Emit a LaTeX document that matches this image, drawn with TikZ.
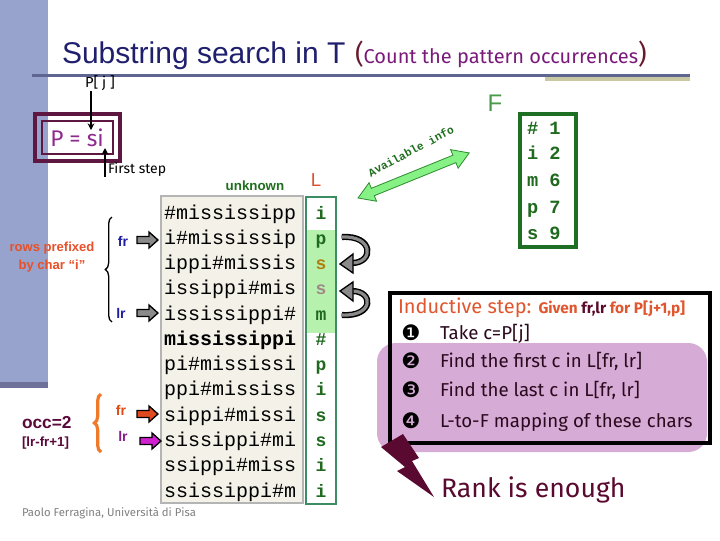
\documentclass[tikz,border=0pt]{standalone}
\usepackage{fontspec}
\setmainfont{Fira Sans}
\newfontfamily\monof{Liberation Mono}
\newfontfamily\titlef{Liberation Sans}
\newfontfamily\dejavu{DejaVu Sans}
\usetikzlibrary{decorations.pathreplacing,arrows.meta}
\definecolor{barblue}{HTML}{97A3CC}
\definecolor{bardark}{HTML}{6E7199}
\definecolor{navy}{HTML}{1F1F6E}
\definecolor{subpurple}{HTML}{7A1A7A}
\definecolor{parenred}{HTML}{6A1A30}
\definecolor{titleline}{HTML}{5F6591}
\definecolor{khaki}{HTML}{C8C8A2}
\definecolor{boxmaroon}{HTML}{5E1740}
\definecolor{psipurple}{HTML}{8E2A8E}
\definecolor{dgreen}{HTML}{1E6E1E}
\definecolor{lred}{HTML}{E05030}
\definecolor{matfill}{HTML}{F3F1E8}
\definecolor{matborder}{HTML}{B4B4B4}
\definecolor{lborder}{HTML}{3C8C64}
\definecolor{lhl}{HTML}{B6F2AE}
\definecolor{ltext}{HTML}{1F6A1F}
\definecolor{sthree}{HTML}{B07F10}
\definecolor{sfour}{HTML}{A08888}
\definecolor{fgreen}{HTML}{4A9A4A}
\definecolor{fborder}{HTML}{1E6E24}
\definecolor{agreen}{HTML}{86F286}
\definecolor{agreenline}{HTML}{2E8B2E}
\definecolor{rowsred}{HTML}{E8502A}
\definecolor{frblue}{HTML}{1E1EA0}
\definecolor{frred}{HTML}{E04A14}
\definecolor{lrpurple}{HTML}{8C1C8C}
\definecolor{arrowred}{HTML}{E04A20}
\definecolor{arrowmag}{HTML}{D020D0}
\definecolor{braceorange}{HTML}{F07A2A}
\definecolor{occ}{HTML}{5A0A3A}
\definecolor{purplebox}{HTML}{D6ABD6}
\definecolor{itemtext}{HTML}{2A0A1E}
\definecolor{indred}{HTML}{E0562E}
\definecolor{frlr}{HTML}{5A0A2A}
\definecolor{rank}{HTML}{5A0A30}
\definecolor{grayarrow}{HTML}{8A8A8A}
\tikzset{
  txt/.style={inner sep=0pt, outer sep=0pt},
  matrow/.style={txt, anchor=base west, font=\monof\fontsize{15}{15}\selectfont},
  lchar/.style={txt, anchor=base, font=\monof\bfseries\fontsize{13.5}{13.5}\selectfont, text=ltext},
  fchar/.style={txt, anchor=base west, font=\monof\bfseries\fontsize{14}{14}\selectfont, text=ltext},
  item/.style={txt, anchor=base west, font=\fontsize{14}{14}\selectfont, text=itemtext},
  bullet/.style={txt, anchor=base, font=\dejavu\fontsize{16}{16}\selectfont, text=black},
  blk/.pic={\draw[pic actions] (0,-3.5) -- (12,-3.5) -- (12,-8) -- (21,0) -- (12,8) -- (12,3.5) -- (0,3.5) -- cycle;}
}
\begin{document}
\begin{tikzpicture}[x=0.75pt,y=-0.75pt]
\useasboundingbox (0,0) rectangle (720,540);
\fill[white] (0,0) rectangle (720,540);
% left bar
\fill[barblue] (0,0) rectangle (48,382);
\fill[bardark] (0,382) rectangle (48,388);
% title
\node[txt, anchor=base west, text=navy, font=\titlef\fontsize{22.5}{22.5}\selectfont] (title) at (62,63) {Substring search in T};
\node[txt, anchor=base west, font=\fontsize{15}{15}\selectfont] (subtitle) at (355,63)
  {\textcolor{parenred}{\fontsize{20}{20}\selectfont(}\textcolor{subpurple}{Count the pattern occurrences}\textcolor{parenred}{\fontsize{20}{20}\selectfont)}};
\fill[titleline] (32,73.5) rectangle (690,77);
\fill[khaki] (545,77) rectangle (690,80.5);
% P = si box
\draw[boxmaroon, line width=2.6pt] (35,114) rectangle (120,161);
\draw[boxmaroon, line width=2pt] (42,121) rectangle (113,154);
\node[txt, anchor=base, text=psipurple, font=\fontsize{17}{17}\selectfont] (psi) at (77,146) {P = si};
\node[txt, font=\fontsize{11}{11}\selectfont] (pj) at (100,83) {P[ j ]};
\draw[black, line width=1.6pt, -{Stealth[length=5pt,width=5pt]}] (91,91) coordinate (pja) -- (91,130) coordinate (pjb);
\node[txt, anchor=west, font=\fontsize{10.5}{10.5}\selectfont] (first) at (108,170) {First step};
\draw[black, line width=1.6pt, -{Stealth[length=5pt,width=5pt]}] (105,177) coordinate (fsa) -- (105,148) coordinate (fsb);
% unknown, L
\node[txt, text=dgreen, font=\titlef\bfseries\fontsize{10}{10}\selectfont] (unknown) at (255,186) {unknown};
\node[txt, text=lred, font=\titlef\fontsize{14}{14}\selectfont] (Lhead) at (316,180) {L};
% matrix box
\draw[matborder, fill=matfill, line width=2.2pt] (161,196) rectangle (303,503);
\node[matrow] (r1) at (164,219) {\#mississipp};
\node[matrow] (r2) at (164,244.3) {i\#mississip};
\node[matrow] (r3) at (164,269.5) {ippi\#missis};
\node[matrow] (r4) at (164,294.8) {issippi\#mis};
\node[matrow] (r5) at (164,320.1) {ississippi\#};
\node[matrow, font=\monof\bfseries\fontsize{15}{15}\selectfont] (r6) at (164,345.4) {mississippi};
\node[matrow] (r7) at (164,370.6) {pi\#mississi};
\node[matrow] (r8) at (164,395.9) {ppi\#mississ};
\node[matrow] (r9) at (164,421.2) {sippi\#missi};
\node[matrow] (r10) at (164,446.4) {sissippi\#mi};
\node[matrow] (r11) at (164,471.7) {ssippi\#miss};
\node[matrow] (r12) at (164,497) {ssissippi\#m};
% L column
\draw[lborder, fill=white, line width=2.2pt] (306,197) rectangle (336,504);
\fill[lhl] (307.2,230) rectangle (334.8,333);
\draw[lborder, line width=2.2pt] (306,197) rectangle (336,504);
\node[lchar] (l1) at (321,219) {i};
\node[lchar] (l2) at (321,244.3) {p};
\node[lchar, text=sthree] (l3) at (321,269.5) {s};
\node[lchar, text=sfour] (l4) at (321,294.8) {s};
\node[lchar] (l5) at (321,320.1) {m};
\node[lchar] (l6) at (321,345.4) {\#};
\node[lchar] (l7) at (321,370.6) {p};
\node[lchar] (l8) at (321,395.9) {i};
\node[lchar] (l9) at (321,421.2) {s};
\node[lchar] (l10) at (321,446.4) {s};
\node[lchar] (l11) at (321,471.7) {i};
\node[lchar] (l12) at (321,497) {i};
% curved gray arrows
\draw[black, line width=4.6pt] (342,237) .. controls (374,235) and (374,263) .. (352,263);
\draw[grayarrow, line width=2.4pt] (341,237) .. controls (374,235) and (374,263) .. (352,263);
\filldraw[fill=grayarrow, draw=black, line width=1pt] (353,254) -- (340,264) -- (353,273) -- cycle;
\draw[black, line width=4.6pt] (342,315) .. controls (374,317) and (374,291) .. (352,291);
\draw[grayarrow, line width=2.4pt] (341,315) .. controls (374,317) and (374,291) .. (352,291);
\filldraw[fill=grayarrow, draw=black, line width=1pt] (353,282) -- (340,291) -- (353,301) -- cycle;
% left brace + labels
\draw[black, line width=1pt, decorate, decoration={brace, amplitude=5pt}] (112,322) -- (112,217);
\node[txt, align=center, text=rowsred, font=\titlef\bfseries\fontsize{9.8}{13.2}\selectfont] (rows) at (52,257) {rows prefixed\\by char “i”};
\node[txt, text=frblue, font=\titlef\bfseries\fontsize{10.5}{10.5}\selectfont] (fr1) at (123,241) {fr};
\node[txt, text=frblue, font=\titlef\bfseries\fontsize{10.5}{10.5}\selectfont] (lr1) at (121,313) {lr};
\pic[fill=grayarrow, draw=black, line width=1pt] at (137,240) {blk};
\pic[fill=grayarrow, draw=black, line width=1pt] at (137,313) {blk};
% lower brace
\draw[braceorange, line width=2.4pt, decorate, decoration={brace, amplitude=5pt}] (101,452) -- (101,394);
\node[txt, text=frred, font=\titlef\bfseries\fontsize{10.5}{10.5}\selectfont] (fr2) at (121,410) {fr};
\node[txt, text=lrpurple, font=\titlef\bfseries\fontsize{10.5}{10.5}\selectfont] (lr2) at (123,436) {lr};
\pic[fill=arrowred, draw=black, line width=1pt] at (137,414) {blk};
\pic[fill=arrowmag, draw=black, line width=1pt] at (140,441) {blk};
\node[txt, anchor=west, text=occ, font=\titlef\bfseries\fontsize{13}{13}\selectfont] (occ) at (22,423) {occ=2};
\node[txt, anchor=west, text=occ, font=\titlef\bfseries\fontsize{10}{10}\selectfont] (occf) at (22,443) {[lr-fr+1]};
% footer
\node[txt, anchor=west, text=gray, font=\fontsize{8.5}{8.5}\selectfont] (footer) at (22,513) {Paolo Ferragina, Università di Pisa};
% available info arrow
\begin{scope}[shift={(358,198)}, rotate=22.07]
\filldraw[fill=agreen, draw=agreenline, line width=0.6pt] (0,0) -- (16,-10) -- (16,-4) -- (104,-4) -- (104,-10) -- (120,0) -- (104,10) -- (104,4) -- (16,4) -- (16,10) -- cycle;
\end{scope}
\node[txt, rotate=28, text=dgreen, font=\monof\bfseries\fontsize{8.5}{8.5}\selectfont] (avail) at (411,151) {Available info};
% F
\node[txt, text=fgreen, font=\titlef\fontsize{18}{18}\selectfont] (F) at (495,103) {F};
\draw[fborder, line width=2.4pt] (520,114) rectangle (576,247);
\node[fchar] (f1) at (527,134) {\# 1};
\node[fchar] (f2) at (527,159) {i 2};
\node[fchar] (f3) at (527,186) {m 6};
\node[fchar] (f4) at (527,213) {p 7};
\node[fchar] (f5) at (527,239) {s 9};
% inductive box
\fill[white] (390,293) rectangle (710,443);
\fill[purplebox, rounded corners=14pt] (377,343) rectangle (707,452);
\draw[black, line width=2.4pt] (390,293) rectangle (710,443);
\node[txt, anchor=base west, text=indred, font=\fontsize{15}{15}\selectfont] (ind) at (398,313)
  {Inductive step: {\fontsize{11.5}{11.5}\selectfont\bfseries Given \textcolor{frlr}{fr,lr} for P[j+1,p]}};
\node[bullet] (b1) at (411,340) {❶};
\node[item] (i1) at (440,339) {Take c=P[j]};
\node[bullet] (b2) at (411,368) {❷};
\node[item] (i2) at (440,367) {Find the first c in L[fr, lr]};
\node[bullet] (b3) at (411,397) {❸};
\node[item] (i3) at (440,396) {Find the last c in L[fr, lr]};
\node[bullet] (b4) at (411,428) {❹};
\node[item] (i4) at (440,427) {L-to-F mapping of these chars};
% lightning
\fill[rank] (381,447) -- (403,434) -- (419,458) -- (412,461) -- (434,497) -- (397,471) -- (405,467) -- cycle;
\node[txt, anchor=base west, text=rank, font=\fontsize{20}{20}\selectfont] (rankt) at (441,497) {Rank is enough};
\end{tikzpicture}
\end{document}
